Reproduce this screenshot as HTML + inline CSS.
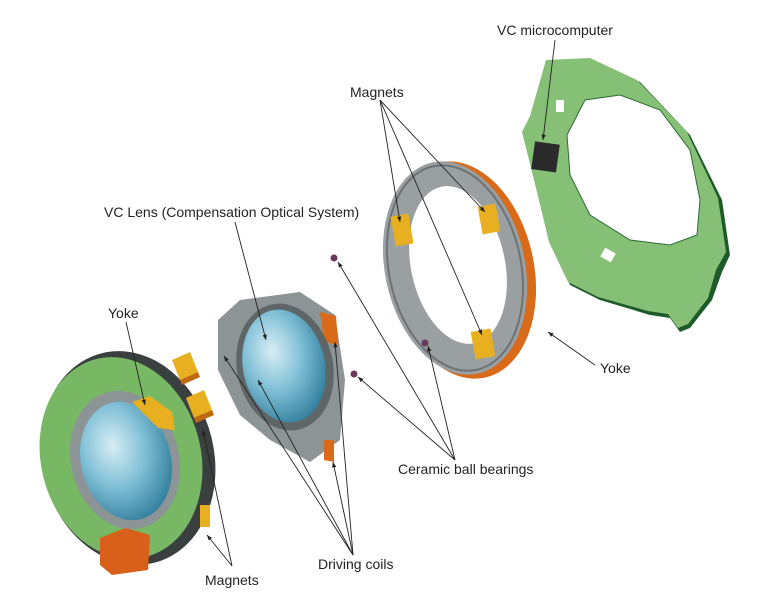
<!DOCTYPE html>
<html><head><meta charset="utf-8"><style>
html,body{margin:0;padding:0;background:#fff;width:770px;height:616px;overflow:hidden}
svg{display:block}
text{font-family:"Liberation Sans",sans-serif;font-size:14px;fill:#222}
</style></head><body>
<svg width="770" height="616" viewBox="0 0 770 616" xmlns="http://www.w3.org/2000/svg">
<defs>
<radialGradient id="lens" cx="40%" cy="35%" r="70%"><stop offset="0" stop-color="#d8eef5"/><stop offset="0.5" stop-color="#7fbfd6"/><stop offset="1" stop-color="#2f7c9a"/></radialGradient>
<marker id="a" viewBox="0 0 10 10" refX="10" refY="5" markerWidth="6" markerHeight="6" orient="auto"><path d="M0,1 L10,5 L0,9 Z" fill="#222"/></marker>
</defs>
<!-- right PCB -->
<path d="M548,62 L592,60 L640,82 L690,135 L722,200 L730,255 L722,272 L712,300 L690,328 L680,332 L670,318 L650,315 L600,300 L570,285 L552,245 L540,190 L525,133 L532,118 Z" fill="#1f5a2a"/>
<path d="M546,60 L590,58 L637,80 L687,132 L718,198 L726,252 L716,270 L708,298 L688,324 L678,328 L668,314 L648,311 L598,297 L568,282 L549,242 L536,188 L522,132 L530,116 Z" fill="#86c076"/>
<path d="M585,100 L620,95 L660,110 L690,150 L700,200 L697,235 L670,245 L630,240 L590,215 L570,175 L567,135 Z" fill="#fff" stroke="#2d6a35" stroke-width="1"/>
<rect x="533" y="143" width="25" height="28" fill="#2a2a2a" transform="rotate(8 546 157)"/>
<rect x="645" y="115" width="10" height="12" fill="#fff" transform="rotate(30 650 121)"/><rect x="602" y="250" width="12" height="10" fill="#fff" transform="rotate(30 608 255)"/><rect x="556" y="100" width="8" height="12" fill="#fff"/>
<!-- grey ring -->
<ellipse cx="462" cy="270" rx="72" ry="110" transform="rotate(-12 462 270)" fill="#d86a1a"/>
<ellipse cx="455" cy="268" rx="70" ry="108" transform="rotate(-12 455 268)" fill="#9aa0a2"/>
<ellipse cx="455" cy="268" rx="66" ry="104" transform="rotate(-12 455 268)" fill="none" stroke="#6d7375" stroke-width="2"/>
<ellipse cx="458" cy="265" rx="47" ry="80" transform="rotate(-12 458 265)" fill="#fff"/>
<rect x="393" y="215" width="18" height="30" fill="#e8b020" transform="rotate(-10 402 230)"/>
<rect x="480" y="205" width="18" height="28" fill="#e8b020" transform="rotate(-10 489 219)"/>
<rect x="473" y="330" width="20" height="28" fill="#e8b020" transform="rotate(-10 483 344)"/>
<!-- balls -->
<circle cx="334" cy="258" r="3.5" fill="#6a3a5a"/><circle cx="425" cy="343" r="3.5" fill="#6a3a5a"/><circle cx="354" cy="374" r="3.5" fill="#6a3a5a"/>
<!-- middle lens module -->
<path d="M218,320 L240,300 L300,292 L335,315 L345,380 L340,440 L310,462 L270,440 L240,415 L218,370 Z" fill="#8d9496"/>
<path d="M320,312 L336,316 L338,345 L324,342 Z" fill="#d86a1a"/>
<path d="M324,440 L334,440 L334,462 L324,460 Z" fill="#d86a1a"/>
<ellipse cx="285" cy="367" rx="48" ry="64" transform="rotate(-12 285 367)" fill="#5e6668"/>
<ellipse cx="284" cy="366" rx="41" ry="57" transform="rotate(-12 284 366)" fill="url(#lens)"/>
<!-- left assembly -->
<ellipse cx="128" cy="458" rx="86" ry="108" transform="rotate(-14 128 458)" fill="#3a3f40"/>
<ellipse cx="121" cy="458" rx="80" ry="102" transform="rotate(-14 121 458)" fill="#78b864"/>
<ellipse cx="125" cy="460" rx="54" ry="70" transform="rotate(-14 125 460)" fill="#8c9496"/>
<ellipse cx="126" cy="461" rx="45" ry="60" transform="rotate(-14 126 461)" fill="url(#lens)"/>
<path d="M132,402 L150,396 L172,412 L175,430 L158,428 Z" fill="#e8b020"/>
<path d="M100,538 L125,528 L150,535 L148,570 L112,575 L100,565 Z" fill="#d8601a"/>
<rect x="200" y="505" width="10" height="22" fill="#e8b020"/>
<!-- loose magnets -->
<path d="M172,360 L190,352 L198,372 L180,380 Z" fill="#e8b020"/><path d="M180,380 L198,372 L200,377 L182,385 Z" fill="#c06a10"/>
<path d="M186,398 L204,390 L212,410 L194,418 Z" fill="#e8b020"/><path d="M194,418 L212,410 L214,415 L196,423 Z" fill="#c06a10"/>
<!-- lines -->
<g stroke="#222" stroke-width="0.9" fill="none" marker-end="url(#a)">
<line x1="555" y1="40" x2="543" y2="140"/>
<line x1="380" y1="100" x2="400" y2="222"/><line x1="380" y1="100" x2="485" y2="212"/><line x1="380" y1="100" x2="482" y2="335"/>
<line x1="235" y1="222" x2="266" y2="340"/>
<line x1="126" y1="322" x2="145" y2="405"/>
<line x1="595" y1="365" x2="548" y2="332"/>
<line x1="455" y1="460" x2="338" y2="262"/><line x1="455" y1="460" x2="428" y2="346"/><line x1="455" y1="460" x2="358" y2="377"/>
<line x1="353" y1="555" x2="224" y2="356"/><line x1="353" y1="555" x2="335" y2="342"/><line x1="353" y1="555" x2="333" y2="462"/><line x1="353" y1="555" x2="258" y2="380"/>
<line x1="232" y1="566" x2="203" y2="430"/><line x1="232" y1="566" x2="207" y2="535"/>
</g>
<text x="497" y="35">VC microcomputer</text>
<text x="350" y="97">Magnets</text>
<text x="104" y="217">VC Lens (Compensation Optical System)</text>
<text x="108" y="318">Yoke</text>
<text x="600" y="373">Yoke</text>
<text x="398" y="474">Ceramic ball bearings</text>
<text x="318" y="569">Driving coils</text>
<text x="205" y="585">Magnets</text>
</svg>
</body></html>
